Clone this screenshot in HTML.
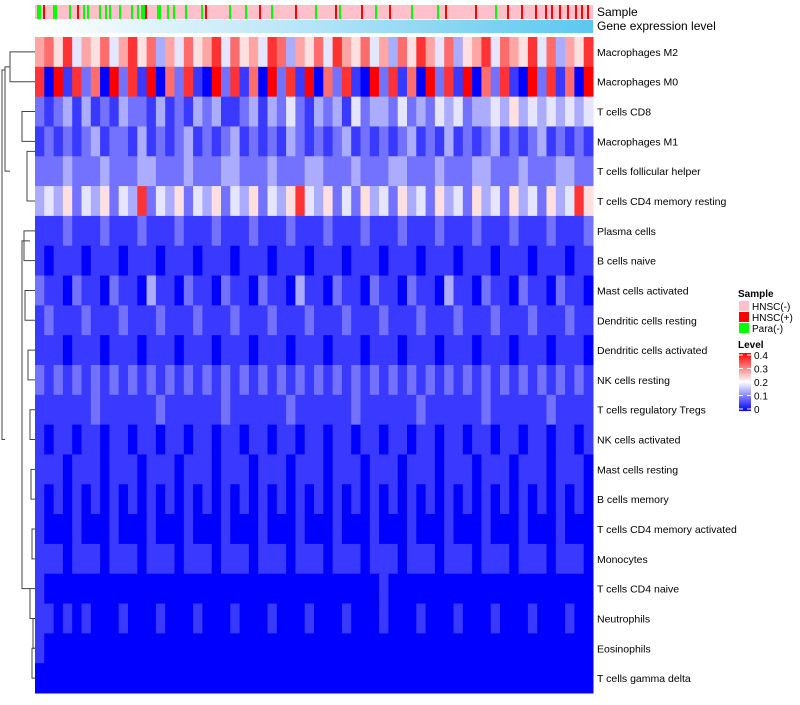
<!DOCTYPE html>
<html><head><meta charset="utf-8"><style>
body{margin:0;background:#fff;font-family:"Liberation Sans",sans-serif}
</style></head><body>
<svg id="chart" width="800" height="700" xmlns="http://www.w3.org/2000/svg" font-family="Liberation Sans, sans-serif"></svg>
<script>
const rowLabels=["Macrophages M2","Macrophages M0","T cells CD8","Macrophages M1","T cells follicular helper","T cells CD4 memory resting","Plasma cells","B cells naive","Mast cells activated","Dendritic cells resting","Dendritic cells activated","NK cells resting","T cells regulatory  Tregs","NK cells activated","Mast cells resting","B cells memory","T cells CD4 memory activated","Monocytes","T cells CD4 naive","Neutrophils","Eosinophils","T cells gamma delta"];
const rowData=[
"675846574685736475684756487365748657463758647356847658473658",
"809182709281907281092817092819072810928170928190728109281709",
"212313121322131213231123132421323142332423243423343534343434",
"121212312213121231212312121321212312121231213121231212312121",
"222322232223322232223322232223322232223322232223322232223322",
"343524352438243524352435243584352425342534253425342534253485",
"111211121112111211121112111211121112111211121112111211121112",
"101110111011101110111011101110111011101110111011101110111011",
"211021102110311021102110211031102110211021103110211021102110",
"121112111211121112111211121112111211121112111211121112111211",
"111011101110111011101110111011101110111011101110111011101110",
"212121212121212121212121212121212121212121212121212121212121",
"111111211111121111112111111211111121111112111111211111121111",
"101101101101101101101101101101101101101101101101101101101101",
"111011101110111011101110111011101110111011101110111011101110",
"101010101010101010101010101010101010101010101010101010101010",
"100010001000100010001000100010001000100010001000100010001000",
"111011101110111011101110111011101110111011101110111011101110",
"100000000000000000000000000000000000010000000000000000000000",
"110101000100010001000100010001000100010001000100010001000100",
"100000000000000000000000000000000000000000000000000000000000",
"000000000000000000000000000000000000000000000000000000000000"];
const digitStep=0.045;
const sampleCols=279;
const greenCols=[1,2,9,10,17,24,26,32,35,37,42,48,51,53,54,61,62,66,69,75,83,97,105,118,140,152,170,188,201,230];
const redCols=[4,21,55,85,112,130,150,163,177,205,220,236,243,250,255,258,262,266,270,273,276];
const legendTicks=[0.4,0.3,0.2,0.1,0];

const svg=document.getElementById('chart');const NS='http://www.w3.org/2000/svg';
function mk(t,a,p){const e=document.createElementNS(NS,t);for(const k in a)e.setAttribute(k,a[k]);(p||svg).appendChild(e);return e;}
const X0=35,X1=593,Y0=37,Y1=693;
const rowH=(Y1-Y0)/rowLabels.length;
function color(v){v=Math.max(0,Math.min(0.4,v));let r,g,b;
 if(v<=0.2){const t=v/0.2;r=255*t;g=255*t;b=255;}else{const t=(v-0.2)/0.2;r=255;g=255*(1-t);b=255*(1-t);}
 return `rgb(${r|0},${g|0},${b|0})`;}
const defs=mk('defs',{});
const hm=mk('g',{});
rowData.forEach((s,i)=>{const n=s.length,w=(X1-X0)/n;
 for(let j=0;j<n;j++){const c=mk('rect',{x:X0+j*w,y:Y0+i*rowH,width:w+0.5,height:rowH+0.5,fill:color(+s[j]*digitStep)},hm);
  }
 const t=mk('text',{x:597,y:Y0+i*rowH+rowH/2+4,'font-size':10.5,fill:'#000'});t.textContent=rowLabels[i];
 
});
const sw=(X1-X0)/sampleCols;
const sb=mk('rect',{x:X0,y:5,width:X1-X0,height:14,fill:'#ffc0cb'});

greenCols.forEach(c=>{const r=mk('rect',{x:X0+c*sw,y:5,width:sw,height:14,fill:'#00ff00'});});
redCols.forEach(c=>{const r=mk('rect',{x:X0+c*sw,y:5,width:sw,height:14,fill:'#ff0000'});});
const lg=mk('linearGradient',{id:'gl',x1:'0',x2:'1',y1:'0',y2:'0'},defs);
mk('stop',{offset:'0','stop-color':'#ffffff'},lg);mk('stop',{offset:'0.4','stop-color':'#c4e9f9'},lg);mk('stop',{offset:'1','stop-color':'#5bc8f0'},lg);
const gb=mk('rect',{x:X0,y:20,width:X1-X0,height:13,fill:'url(#gl)'});

let t=mk('text',{x:597,y:16,'font-size':12});t.textContent='Sample';
t=mk('text',{x:597,y:30,'font-size':12});t.textContent='Gene expression level';
const dg=mk('g',{stroke:'#444','stroke-width':1,fill:'none'});
function ry(i){return Y0+i*rowH+rowH/2;}
const segs=[[10,ry(0),ry(1),35],[22,ry(2),ry(3),35],[27,ry(3)+10,ry(5),35],[5,(ry(0)+ry(1))/2,ry(4),10],[2,70,ry(13),5],
[24,ry(6),ry(7),35],[25,ry(8),ry(9),35],[28,ry(10),ry(11),35],[30,ry(12),ry(13),35],[31,ry(14),ry(15),35],[32,ry(16),ry(17),35],
[33,ry(19),ry(20),35],[30,ry(18),ry(19),35],[32,ry(20),ry(21),35],[22,ry(6)+10,ry(18),30]];
segs.forEach(s=>{mk('path',{d:`M${s[3]},${s[1]}H${s[0]}V${s[2]}H${s[3]}`},dg);});
t=mk('text',{x:738,y:297,'font-size':10,'font-weight':'bold'});t.textContent='Sample';
[['HNSC(-)','#ffc0cb'],['HNSC(+)','#ff0000'],['Para(-)','#00ff00']].forEach((e,i)=>{
 const r=mk('rect',{x:739,y:301+i*11,width:10,height:10,fill:e[1]});
 const tt=mk('text',{x:752,y:310+i*11,'font-size':10});tt.textContent=e[0];});
t=mk('text',{x:738,y:348,'font-size':10,'font-weight':'bold'});t.textContent='Level';
const cg=mk('linearGradient',{id:'cl',x1:'0',x2:'0',y1:'0',y2:'1'},defs);
mk('stop',{offset:'0','stop-color':'#ff0000'},cg);mk('stop',{offset:'0.5','stop-color':'#ffffff'},cg);mk('stop',{offset:'1','stop-color':'#0000ff'},cg);
const cb=mk('rect',{x:739,y:353,width:12,height:58,fill:'url(#cl)'});
legendTicks.forEach(v=>{const y=353+(0.4-v)/0.4*54+2;
 mk('line',{x1:739,x2:743,y1:y,y2:y,stroke:'#fff'});mk('line',{x1:747,x2:751,y1:y,y2:y,stroke:'#fff'});
 const tt=mk('text',{x:754,y:y+4,'font-size':10});tt.textContent=v===0?'0':v.toFixed(1);});
</script>
</body></html>
